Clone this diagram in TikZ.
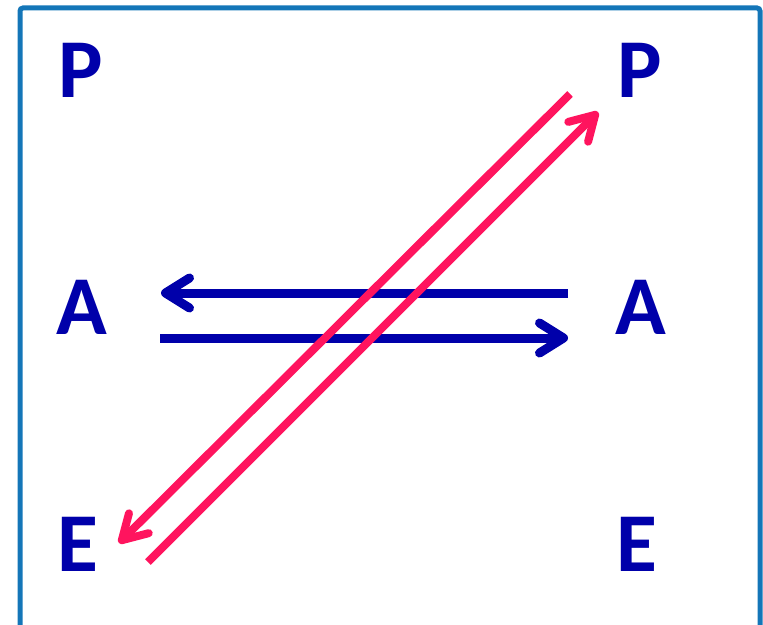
\documentclass[tikz,border=0pt]{standalone}
\usepackage{fontspec}
\setmainfont{Carlito}
\usetikzlibrary{arrows.meta}
\usetikzlibrary{positioning}
\usetikzlibrary{calc}

\definecolor{letterblue}{RGB}{0,0,170}
\definecolor{arrowred}{RGB}{255,20,94}
\definecolor{framecol}{RGB}{20,118,184}

\begin{document}
\begin{tikzpicture}[x=1bp, y=-1bp,
    every node/.style={font=\fontsize{84}{84}\selectfont\bfseries, text=letterblue, inner sep=0pt},
    bluearrow/.style={draw=letterblue, line width=9bp, -{Straight Barb[length=24bp, width=30bp, round]}},
    redarrow/.style={draw=arrowred, line width=8bp, -{Straight Barb[length=24bp, width=28bp, round]}}]

        \clip (0,0) rectangle (763,625);
        \draw[framecol, line width=5bp, rounded corners=3bp] (20,8) rectangle (760,680);

        % left column
        \node (P1) at (81, 70) {P};
        \node (A1) at (82, 307) {A};
        \node (E1) at (78, 544) {E};

        % right column
        \node (P2) at (640, 70) {P};
        \node (A2) at (641, 307) {A};
        \node (E2) at (637, 544) {E};

        \coordinate (a1top) at ($(A1) + (79, -14)$);
        \coordinate (a2top) at ($(A2) + (-73, -14)$);
        \coordinate (a1bot) at ($(A1) + (78, 31)$);
        \coordinate (a2bot) at ($(A2) + (-73, 31)$);

        \coordinate (p2out) at ($(P2) + (-70, 24)$);
        \coordinate (p2in) at ($(P2) + (-42, 42)$);
        \coordinate (e1in) at ($(E1) + (41, -1)$);
        \coordinate (e1out) at ($(E1) + (70, 18)$);

        \draw[bluearrow] (a2top) -- (a1top);
        \draw[bluearrow] (a1bot) -- (a2bot);

        \draw[redarrow] (p2out) -- (e1in);
        \draw[redarrow] (e1out) -- (p2in);

\end{tikzpicture}
\end{document}
